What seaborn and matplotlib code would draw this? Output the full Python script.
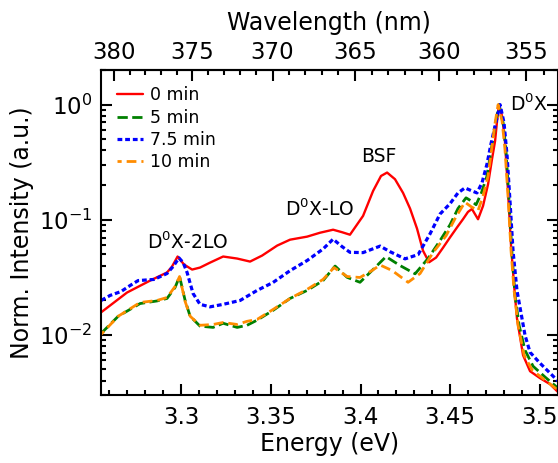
import numpy as np
import matplotlib
matplotlib.use("Agg")
import matplotlib.pyplot as plt
from matplotlib.ticker import MultipleLocator, LogLocator
import seaborn as sns

# photon energy (eV) / normalized PL intensity
energy_0 = [3.2554, 3.2604, 3.2698, 3.2827, 3.2921, 3.2949, 3.2980, 3.3016, 3.3061, 3.3105,
            3.3161, 3.3234, 3.3312, 3.3384, 3.3451, 3.3535, 3.3607, 3.3702, 3.3774, 3.3847,
            3.3897, 3.3941, 3.4014, 3.4070, 3.4114, 3.4148, 3.4192, 3.4237, 3.4276, 3.4315,
            3.4348, 3.4382, 3.4421, 3.4460, 3.4499, 3.4538, 3.4571, 3.4599, 3.4621, 3.4655,
            3.4683, 3.4711, 3.4733, 3.4750, 3.4761, 3.4772, 3.4789, 3.4805, 3.4822, 3.4839,
            3.4856, 3.4872, 3.4906, 3.4945, 3.5001, 3.5057, 3.5101]
int_0 = [0.0157, 0.0180, 0.0233, 0.0296, 0.0348, 0.0392, 0.0479, 0.0408, 0.0369, 0.0384,
         0.0424, 0.0479, 0.0460, 0.0433, 0.0488, 0.0596, 0.0671, 0.0713, 0.0771, 0.0819,
         0.0779, 0.0741, 0.108, 0.178, 0.240, 0.257, 0.225, 0.171, 0.125, 0.0836,
         0.0539, 0.0427, 0.0469, 0.0572, 0.0703, 0.0858, 0.101, 0.117, 0.124, 0.101,
         0.132, 0.204, 0.337, 0.483, 0.72, 1.0, 0.795, 0.483, 0.178, 0.0596,
         0.0268, 0.0139, 0.00665, 0.00483, 0.00420, 0.00372, 0.00318]

energy_5 = [3.2554, 3.2649, 3.2771, 3.2866, 3.2921, 3.2966, 3.2991, 3.3022, 3.3050, 3.3105,
            3.3178, 3.3234, 3.3312, 3.3367, 3.3423, 3.3512, 3.3607, 3.3702, 3.3791, 3.3858,
            3.3925, 3.3997, 3.4064, 3.4142, 3.4220, 3.4304, 3.4376, 3.4443, 3.4499, 3.4543,
            3.4588, 3.4616, 3.4644, 3.4672, 3.4705, 3.4727, 3.4750, 3.4772, 3.4795, 3.4811,
            3.4828, 3.4845, 3.4861, 3.4884, 3.4917, 3.4962, 3.5029, 3.5101]
int_5 = [0.0103, 0.0145, 0.0187, 0.0197, 0.0207, 0.0258, 0.0321, 0.0199, 0.0145, 0.0119,
         0.0116, 0.0126, 0.0116, 0.0121, 0.0134, 0.0163, 0.0207, 0.0243, 0.0296, 0.0396,
         0.0316, 0.0286, 0.0362, 0.0478, 0.0400, 0.0339, 0.0460, 0.0658, 0.0905, 0.125,
         0.155, 0.146, 0.135, 0.168, 0.240, 0.396, 0.652, 1.0, 0.692, 0.396,
         0.146, 0.0488, 0.0220, 0.0121, 0.00734, 0.00533, 0.00429, 0.00344]

energy_75 = [3.2554, 3.2604, 3.2665, 3.2715, 3.2760, 3.2849, 3.2921, 3.2955, 3.2988, 3.3011,
             3.3033, 3.3066, 3.3105, 3.3161, 3.3234, 3.3329, 3.3423, 3.3512, 3.3607, 3.3702,
             3.3791, 3.3847, 3.3897, 3.3941, 3.4014, 3.4109, 3.4164, 3.4248, 3.4321, 3.4387,
             3.4443, 3.4499, 3.4543, 3.4582, 3.4621, 3.4649, 3.4677, 3.4705, 3.4727, 3.4750,
             3.4778, 3.4800, 3.4817, 3.4833, 3.4850, 3.4872, 3.4889, 3.4917, 3.4945, 3.5001,
             3.5057, 3.5101]
int_75 = [0.0199, 0.0220, 0.0238, 0.0268, 0.0296, 0.0303, 0.0341, 0.0392, 0.0466, 0.0424,
          0.0348, 0.0229, 0.0184, 0.0175, 0.0184, 0.0199, 0.0243, 0.0285, 0.0361, 0.0442,
          0.0557, 0.0678, 0.0584, 0.0521, 0.0518, 0.0590, 0.0528, 0.0457, 0.0498, 0.0752,
          0.112, 0.138, 0.171, 0.189, 0.178, 0.171, 0.209, 0.305, 0.455, 0.652,
          1.0, 0.692, 0.358, 0.146, 0.0539, 0.0243, 0.0173, 0.0099, 0.00705, 0.00566,
          0.00464, 0.00396]

energy_10 = [3.2554, 3.2649, 3.2771, 3.2866, 3.2921, 3.2966, 3.2991, 3.3022, 3.3050, 3.3105,
             3.3178, 3.3234, 3.3312, 3.3367, 3.3423, 3.3512, 3.3607, 3.3702, 3.3791, 3.3852,
             3.3925, 3.3997, 3.4064, 3.4109, 3.4176, 3.4265, 3.4332, 3.4404, 3.4477, 3.4532,
             3.4582, 3.4616, 3.4655, 3.4683, 3.4711, 3.4733, 3.4750, 3.4767, 3.4789, 3.4805,
             3.4822, 3.4839, 3.4856, 3.4878, 3.4912, 3.4957, 3.5029, 3.5101]
int_10 = [0.0101, 0.0145, 0.0191, 0.0199, 0.0211, 0.0263, 0.0321, 0.0195, 0.0145, 0.0121,
          0.0123, 0.0128, 0.0123, 0.0131, 0.0136, 0.0166, 0.0207, 0.0248, 0.0303, 0.0384,
          0.0321, 0.0315, 0.0362, 0.0404, 0.0362, 0.0286, 0.0341, 0.0518, 0.0727, 0.106,
          0.142, 0.130, 0.120, 0.161, 0.240, 0.437, 0.692, 1.0, 0.720, 0.412,
          0.161, 0.0539, 0.0243, 0.0121, 0.00665, 0.00493, 0.00404, 0.00330]

labels = ["0 min", "5 min", "7.5 min", "10 min"]
colors = ["red", "green", "blue", "darkorange"]

sns.set_style("ticks", {"axes.edgecolor": "black", "xtick.color": "black",
                        "ytick.color": "black", "text.color": "black",
                        "axes.labelcolor": "black",
                        "xtick.direction": "in", "ytick.direction": "in"})
plt.rcParams["font.family"] = ["DejaVu Sans"]
plt.rcParams["axes.linewidth"] = 1.5

fig = plt.figure(figsize=(5.58, 4.63), dpi=100)
ax = fig.add_axes([101 / 558, 1 - 395 / 463, 456.5 / 558, 325 / 463])

sns.lineplot(x=energy_0, y=int_0, color=colors[0], lw=1.7, label=labels[0], ax=ax)
sns.lineplot(x=energy_5, y=int_5, color=colors[1], lw=2, linestyle=(0, (3.7, 1.6)),
             label=labels[1], ax=ax)
sns.lineplot(x=energy_75, y=int_75, color=colors[2], lw=2.3, linestyle=(0, (1.5, 0.9)),
             label=labels[2], ax=ax)
sns.lineplot(x=energy_10, y=int_10, color=colors[3], lw=2, linestyle=(2, (3.5, 1.8)),
             label=labels[3], ax=ax)

ax.set_yscale("log")
ax.set_xlim(3.2553, 3.5098)
ax.set_ylim(3e-3, 2)
ax.xaxis.set_major_locator(MultipleLocator(0.05))
ax.xaxis.set_minor_locator(MultipleLocator(0.01))
ax.yaxis.set_minor_locator(LogLocator(base=10, subs=np.arange(2, 10)))
ax.set_xticks([3.3, 3.35, 3.4, 3.45, 3.5])
ax.set_xticklabels(["3.3", "3.35", "3.4", "3.45", "3.5"])
ax.tick_params(which="both", direction="in", top=False, right=True, width=1.5)
ax.tick_params(which="major", length=8, labelsize=16.5)
ax.tick_params(which="minor", length=3.5)
ax.tick_params(axis="x", pad=8)
ax.tick_params(axis="y", pad=6)
ax.set_xlabel("Energy (eV)", fontsize=17, labelpad=2)
ax.set_ylabel("Norm. Intensity (a.u.)", fontsize=17)


def e2nm(x):
    x = np.asarray(x, dtype=float)
    with np.errstate(divide="ignore"):
        return 1239.84 / x


top = ax.secondary_xaxis("top", functions=(e2nm, e2nm))
top.xaxis.set_major_locator(MultipleLocator(5))
top.xaxis.set_minor_locator(MultipleLocator(1))
top.tick_params(which="both", direction="in", width=1.5)
top.tick_params(which="major", length=8, labelsize=16.5, pad=4)
top.tick_params(which="minor", length=3.5)
top.set_xlabel("Wavelength (nm)", fontsize=17, labelpad=8)

ax.text(3.3038, 0.0638, "D$^0$X-2LO", fontsize=13.5, ha="center", va="center")
ax.text(3.3774, 0.123, "D$^0$X-LO", fontsize=13.5, ha="center", va="center")
ax.text(3.4103, 0.355, "BSF", fontsize=13.5, ha="center", va="center")
ax.text(3.4939, 1.0, "D$^0$X", fontsize=13.5, ha="center", va="center")

ax.legend(loc="upper left", bbox_to_anchor=(0.035, 0.95), frameon=False, fontsize=12.5,
          handlelength=1.5, handletextpad=0.4, labelspacing=0.25,
          borderaxespad=0, borderpad=0)

fig.savefig("out.png", dpi=100)
